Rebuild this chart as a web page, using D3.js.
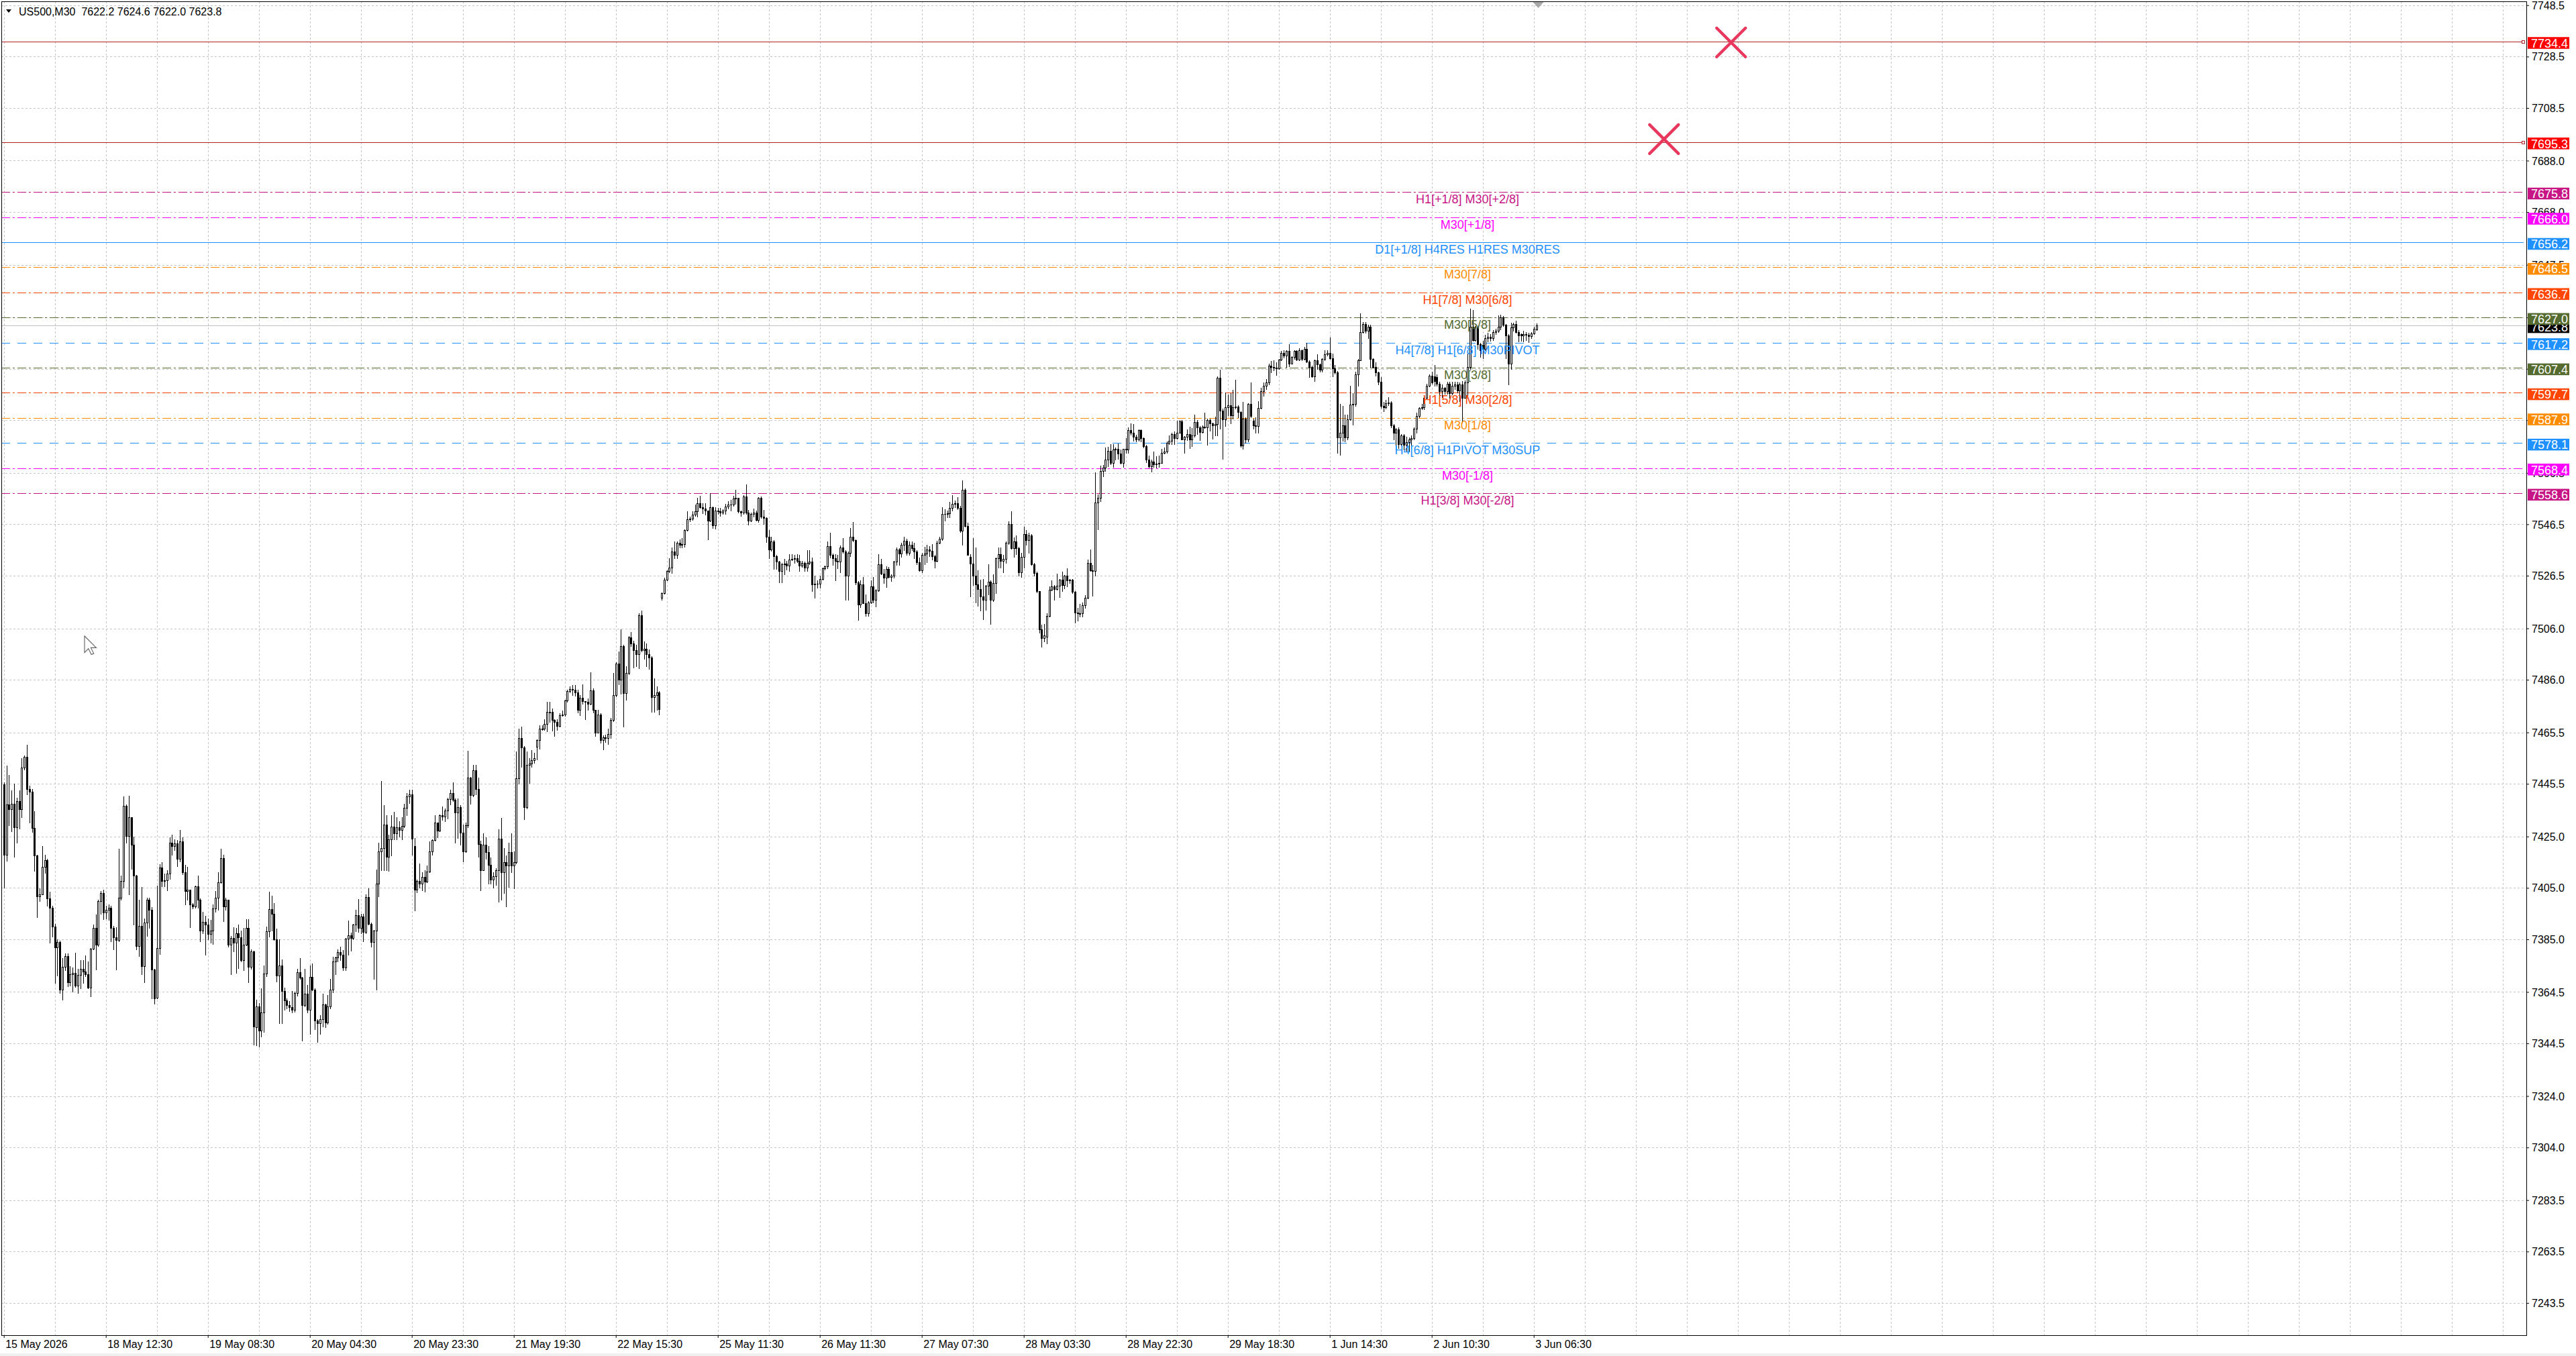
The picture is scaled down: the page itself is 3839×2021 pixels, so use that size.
<!DOCTYPE html>
<html><head><meta charset="utf-8">
<script src="https://cdn.jsdelivr.net/npm/d3@7/dist/d3.min.js"></script>
<style>html,body{margin:0;padding:0;background:#fff;overflow:hidden}</style>
</head><body>
<svg id="c" width="3839" height="2021"></svg>
<script>
// ---------- DATA ----------
const symbolTitle = "US500,M30  7622.2 7624.6 7622.0 7623.8";
// OHLC rows [open, high, low, close], M30 bars
const barsA = [ // 15 May – 19 May
[7445.3,7446.0,7405.0,7417.8],[7417.8,7452.7,7415.6,7437.4],[7437.4,7449.0,7429.5,7435.6],[7435.6,7443.0,7427.0,7437.8],[7437.8,7445.5,7417.0,7428.6],
[7428.6,7440.0,7422.6,7438.7],[7438.7,7443.0,7428.0,7435.6],[7435.6,7455.5,7432.6,7451.8],[7451.8,7456.5,7451.0,7456.0],[7456.0,7460.7,7441.3,7443.5],
[7443.5,7444.8,7430.4,7442.4],[7442.4,7443.5,7426.7,7428.2],[7428.2,7434.8,7411.6,7417.5],[7417.5,7418.0,7393.7,7401.6],[7401.6,7404.7,7399.9,7402.6],
[7402.6,7421.2,7402.4,7413.1],[7413.1,7418.0,7410.8,7415.7],[7415.7,7416.4,7398.1,7400.9],[7400.9,7403.5,7383.7,7397.2],[7397.2,7398.0,7386.0,7390.0],
[7390.0,7391.0,7368.0,7381.9],[7381.9,7385.0,7371.0,7383.9],[7383.9,7384.5,7364.0,7365.5],[7365.5,7377.6,7361.4,7374.3],[7374.3,7379.4,7373.0,7378.5],
[7378.5,7379.4,7366.7,7368.4],[7368.4,7374.6,7367.0,7371.5],[7371.5,7374.0,7364.5,7371.9],[7371.9,7379.8,7366.5,7367.1],[7367.1,7373.5,7364.0,7371.1],
[7371.1,7376.8,7366.0,7373.5],[7373.5,7377.0,7368.0,7372.5],[7372.5,7378.8,7370.5,7371.5],[7371.5,7376.3,7366.0,7366.2],[7366.2,7381.6,7362.7,7381.4],
[7381.4,7390.7,7381.0,7389.4],[7389.4,7394.6,7373.2,7382.8],[7382.8,7400.3,7382.3,7399.9],[7399.9,7403.8,7395.0,7402.9],[7402.9,7404.2,7392.9,7395.5],
[7395.5,7398.0,7393.0,7396.4],[7396.4,7398.5,7392.5,7397.2],[7397.2,7398.1,7384.1,7389.4],[7389.4,7390.3,7381.0,7385.9],[7385.9,7389.8,7373.2,7384.6],
[7384.6,7420.3,7384.2,7401.2],[7401.2,7409.9,7400.3,7407.7],[7407.7,7440.5,7405.1,7437.0],[7437.0,7437.4,7422.6,7425.2],[7425.2,7440.9,7402.5,7432.6],
[7432.6,7432.6,7412.5,7421.7],[7421.7,7425.0,7390.7,7409.7],[7409.7,7410.0,7381.1,7382.4],[7382.4,7400.3,7378.5,7390.3],[7390.3,7405.4,7371.5,7374.5],
[7374.5,7393.2,7368.3,7391.6],[7391.6,7401.2,7386.4,7400.3],[7400.3,7401.2,7389.3,7396.4],[7396.4,7397.5,7361.9,7373.2],[7373.2,7373.4,7360.0,7361.9],
[7362.2,7405.9,7361.9,7381.5],[7381.5,7414.3,7379.3,7413.0],[7413.0,7415.0,7405.5,7407.7],[7407.7,7410.6,7405.5,7408.0],[7408.0,7412.0,7404.0,7410.5],
[7410.5,7424.7,7408.6,7422.6],[7422.6,7425.6,7418.0,7421.2],[7421.2,7424.0,7419.6,7422.4],[7422.4,7423.5,7413.4,7416.3],[7416.3,7427.5,7415.3,7423.0],
[7423.0,7424.8,7410.3,7411.2],[7411.2,7414.0,7398.5,7403.8],[7403.8,7413.1,7400.3,7404.4],[7404.4,7404.4,7389.8,7398.5],[7398.5,7399.0,7396.9,7397.8],
[7397.8,7405.9,7397.3,7405.5],[7405.5,7409.9,7397.3,7400.4],[7400.4,7400.9,7384.1,7388.4],[7388.4,7395.8,7387.4,7391.8],[7391.8,7394.2,7378.9,7390.7],
[7390.7,7393.0,7385.0,7387.0],[7387.0,7392.6,7383.8,7388.4],[7388.4,7398.5,7383.2,7397.0],[7397.0,7403.9,7395.6,7401.2],[7401.2,7411.2,7396.6,7407.3],
[7407.3,7420.2,7406.9,7416.7],[7416.7,7417.9,7392.1,7397.7],[7397.7,7401.2,7396.4,7400.3],[7400.3,7400.5,7382.1,7383.0],[7383.0,7386.4,7371.5,7385.5],
[7385.5,7389.8,7380.4,7383.7],[7383.7,7389.3,7372.0,7387.4],[7387.4,7390.7,7373.7,7385.9],[7385.9,7388.5,7376.4,7376.8],[7376.8,7389.4,7373.0,7383.0],
[7383.0,7392.9,7382.6,7389.4],[7389.4,7392.9,7368.4,7374.3],[7374.3,7381.0,7373.5,7380.2],[7380.2,7380.6,7344.0,7351.0]
];
const barsB = [ // 19 May – 21 May
[7350.7,7361.6,7343.7,7359.0],[7359.0,7360.3,7343.3,7349.4],[7349.4,7366.0,7347.2,7356.4],[7356.4,7374.7,7349.0,7371.8],[7371.8,7390.0,7370.5,7388.1],
[7388.1,7403.5,7386.0,7396.7],[7396.7,7402.0,7388.3,7394.8],[7394.8,7399.0,7384.6,7384.9],[7384.9,7389.2,7368.6,7370.9],[7370.9,7385.0,7352.3,7374.7],
[7374.7,7377.1,7352.3,7364.9],[7364.9,7366.2,7357.7,7361.2],[7361.2,7362.1,7358.1,7359.4],[7359.4,7361.0,7357.0,7358.5],[7358.5,7364.9,7356.4,7357.7],
[7357.7,7364.5,7356.8,7364.0],[7364.0,7373.4,7363.0,7372.1],[7372.1,7377.8,7369.5,7370.1],[7370.1,7370.4,7345.5,7359.4],[7359.4,7373.4,7358.8,7363.8],
[7363.8,7367.3,7356.4,7357.7],[7357.7,7374.7,7348.1,7370.3],[7370.3,7375.6,7365.1,7365.5],[7365.5,7365.9,7349.9,7353.5],[7353.5,7354.0,7345.0,7352.4],
[7352.4,7355.6,7348.1,7353.8],[7353.8,7363.8,7351.1,7359.6],[7359.6,7360.0,7350.8,7352.5],[7352.5,7363.4,7352.0,7359.0],[7359.0,7369.6,7358.1,7365.3],
[7365.3,7378.2,7364.4,7376.5],[7376.5,7378.3,7371.3,7378.0],[7378.0,7381.2,7376.5,7380.1],[7380.1,7382.0,7377.0,7379.0],[7379.0,7380.8,7373.0,7373.9],
[7373.9,7385.6,7373.0,7385.2],[7385.2,7392.2,7379.0,7386.6],[7386.6,7387.5,7380.6,7385.6],[7385.6,7391.0,7385.1,7390.6],[7390.6,7396.5,7388.2,7394.4],
[7394.4,7400.6,7387.8,7389.3],[7389.3,7394.8,7387.4,7393.9],[7393.9,7394.8,7384.1,7387.8],[7387.8,7402.6,7387.4,7401.5],[7401.5,7404.8,7390.8,7391.0],
[7391.0,7391.4,7382.1,7384.0],[7384.0,7388.7,7369.5,7388.4],[7388.4,7412.2,7365.5,7406.6],[7406.6,7422.5,7401.6,7419.2],[7419.2,7446.7,7411.8,7420.5],
[7420.5,7437.1,7411.8,7429.7],[7429.7,7433.2,7411.8,7417.0],[7417.0,7425.8,7411.6,7423.8],[7423.8,7433.2,7417.5,7428.8],[7428.8,7434.7,7424.0,7426.2],
[7426.2,7432.4,7423.8,7428.5],[7428.5,7431.0,7425.0,7427.5],[7427.5,7432.4,7423.8,7429.2],[7429.2,7437.6,7428.7,7436.1],[7436.1,7441.9,7433.2,7440.6],
[7440.6,7443.2,7438.1,7441.5],[7441.5,7443.2,7417.9,7424.2],[7421.2,7424.3,7396.3,7404.4],[7404.4,7408.3,7403.2,7407.7],[7407.7,7414.4,7405.2,7406.6],
[7406.6,7411.1,7404.0,7409.2],[7409.2,7412.0,7403.6,7407.5],[7407.5,7413.6,7407.2,7411.3],[7411.3,7423.0,7411.0,7419.2],[7419.2,7424.0,7417.8,7423.6],
[7423.6,7433.2,7423.3,7430.3],[7430.3,7430.5,7424.8,7427.4],[7427.4,7433.6,7427.0,7433.2],[7433.2,7436.8,7431.4,7432.8],[7432.8,7436.0,7431.0,7435.0],
[7435.0,7440.0,7432.0,7439.6],[7439.6,7443.2,7437.4,7442.0],[7442.0,7446.0,7438.9,7439.3],[7439.3,7439.8,7422.7,7434.3],[7434.3,7439.8,7424.5,7436.3],
[7436.3,7437.3,7421.9,7426.5],[7426.5,7429.7,7415.3,7419.2],[7419.2,7430.3,7418.8,7429.3],[7429.3,7458.3,7428.6,7448.0],[7448.0,7448.3,7437.8,7441.0],
[7441.0,7452.9,7440.6,7450.7],[7450.7,7452.9,7441.5,7443.5],[7443.5,7447.8,7417.0,7422.1],[7422.1,7423.4,7404.0,7412.0],[7412.0,7426.2,7411.8,7421.8],
[7421.8,7424.6,7416.4,7418.8],[7418.8,7421.2,7406.6,7414.0],[7414.0,7416.9,7406.6,7408.3],[7408.3,7411.0,7405.0,7409.5],[7409.5,7412.7,7406.2,7411.8],
[7411.8,7427.9,7399.6,7424.2],[7424.2,7432.3,7400.5,7411.1],[7411.1,7420.5,7403.0,7414.9],[7414.9,7417.5,7397.8,7413.6],[7413.6,7422.6,7405.3,7419.0],
[7419.0,7426.2,7411.2,7413.6],[7413.6,7419.2,7404.9,7415.0],[7415.0,7458.0,7414.6,7447.6],[7447.6,7467.0,7445.6,7463.3],[7463.3,7467.7,7452.0,7459.6]
];
const barsC = [ // 21 May – 22 May
[7459.6,7460.2,7431.6,7436.3],[7436.3,7458.2,7436.0,7452.9],[7452.9,7455.5,7445.9,7453.3],[7453.3,7458.5,7452.0,7454.6],[7454.6,7457.6,7453.7,7455.5],
[7459.9,7462.9,7455.0,7462.5],[7462.5,7468.2,7459.1,7467.1],[7467.1,7468.2,7466.5,7466.9],[7466.9,7470.6,7466.5,7468.7],[7468.7,7477.3,7465.8,7473.5],
[7473.5,7477.5,7469.6,7473.4],[7473.4,7474.7,7466.2,7470.3],[7470.3,7470.6,7464.2,7469.7],[7469.7,7470.7,7466.5,7468.1],[7468.1,7472.9,7467.7,7472.3],
[7472.3,7473.9,7472.0,7472.5],[7472.5,7478.2,7472.0,7477.9],[7477.9,7482.2,7477.4,7481.6],[7481.6,7483.4,7481.0,7482.5],[7482.5,7484.0,7480.0,7482.0],
[7482.0,7483.9,7479.8,7481.2],[7481.2,7482.1,7473.3,7474.2],[7474.2,7479.9,7472.3,7479.0],[7479.0,7484.2,7476.6,7477.6],[7477.6,7477.8,7470.7,7477.4],
[7477.4,7478.7,7474.2,7476.6],[7476.6,7488.9,7476.3,7481.9],[7481.9,7482.6,7473.2,7474.2],[7474.2,7474.4,7464.2,7465.5],[7465.5,7474.2,7465.3,7472.5],
[7472.5,7473.0,7461.4,7462.5],[7462.5,7464.3,7458.8,7463.7],[7463.7,7464.6,7461.8,7463.3],[7463.3,7467.0,7461.0,7465.0],[7465.0,7471.1,7463.3,7470.3],
[7470.3,7488.6,7469.9,7479.9],[7479.9,7492.9,7479.5,7492.4],[7492.4,7496.9,7484.3,7486.0],[7486.0,7505.7,7480.6,7499.1],[7499.1,7499.5,7467.7,7480.8],
[7480.8,7491.2,7478.1,7488.6],[7488.6,7503.0,7488.1,7502.6],[7502.6,7504.5,7499.1,7500.0],[7500.0,7501.3,7490.7,7497.4],[7497.4,7499.6,7491.2,7496.0],
[7496.0,7511.8,7490.5,7511.1],[7511.1,7512.8,7497.1,7497.4],[7497.4,7501.0,7494.0,7498.0],[7498.0,7500.1,7491.2,7496.0],[7496.0,7497.7,7490.3,7494.7],
[7494.7,7495.1,7473.4,7479.3],[7479.3,7486.5,7473.4,7479.9],[7479.9,7483.4,7474.2,7481.2],[7481.2,7481.6,7472.5,7474.6]
];
const barsD = [ // 25 May – 26 May
[7517.9,7520.1,7517.2,7519.8],[7519.8,7525.7,7519.4,7525.0],[7525.0,7528.7,7524.7,7528.3],[7528.3,7533.2,7527.9,7529.7],[7529.7,7537.5,7527.6,7536.0],
[7536.0,7539.7,7533.2,7534.5],[7534.5,7539.7,7533.2,7539.3],[7539.3,7540.7,7537.5,7538.4],[7538.4,7541.1,7537.4,7538.8],[7538.8,7544.5,7537.8,7544.2],
[7544.2,7551.5,7543.9,7548.4],[7548.4,7549.5,7547.6,7548.6],[7548.6,7551.5,7548.3,7550.2],[7550.2,7554.1,7549.7,7551.5],[7551.5,7556.7,7549.6,7554.7],
[7554.7,7557.6,7553.0,7553.2],[7553.2,7554.7,7550.9,7552.6],[7552.6,7554.7,7550.2,7551.7],[7551.7,7551.9,7540.6,7548.0],[7548.0,7558.5,7547.6,7553.2],
[7553.2,7553.5,7545.1,7546.2],[7546.2,7553.2,7544.8,7551.9],[7551.9,7552.8,7550.6,7551.5],[7551.5,7553.0,7549.8,7551.0],[7551.0,7552.4,7550.6,7551.8],
[7551.8,7554.5,7550.6,7553.5],[7553.5,7555.4,7552.6,7554.1],[7554.1,7555.9,7551.7,7554.2],[7554.2,7557.6,7553.6,7556.5],[7556.5,7560.0,7554.5,7556.8],
[7556.8,7556.8,7551.1,7551.5],[7551.5,7551.9,7549.7,7551.1],[7551.1,7557.9,7550.6,7557.3],[7557.3,7562.0,7550.6,7551.1],[7551.1,7552.1,7546.3,7548.0],
[7548.0,7551.1,7547.6,7550.6],[7550.6,7552.7,7549.4,7551.0],[7551.0,7551.9,7547.9,7548.2],[7548.2,7557.0,7547.4,7556.7],[7556.7,7557.2,7549.0,7549.5],
[7549.5,7552.0,7546.7,7548.9],[7548.9,7549.2,7539.6,7541.6],[7541.6,7544.2,7533.3,7536.6],[7536.6,7541.6,7536.2,7539.9],[7539.9,7540.4,7529.2,7534.0],
[7534.0,7534.5,7529.2,7532.0],[7532.0,7532.2,7524.0,7528.4],[7528.4,7531.4,7524.0,7531.0]
];
const barsE = [ // 26 May – 28 May
[7531.0,7533.1,7527.1,7531.2],[7531.2,7532.3,7528.9,7530.5],[7530.5,7534.9,7528.2,7532.7],[7532.7,7534.9,7532.5,7532.9],[7532.9,7534.5,7531.5,7533.4],
[7533.4,7534.9,7531.6,7532.3],[7532.3,7534.6,7528.2,7530.5],[7530.5,7532.2,7529.8,7531.5],[7531.5,7531.9,7528.4,7529.6],[7529.6,7536.3,7528.4,7531.4],
[7531.4,7536.4,7531.0,7532.0],[7532.0,7533.5,7520.6,7523.0],[7523.0,7526.4,7517.9,7523.3],[7523.3,7524.7,7521.9,7523.4],[7523.4,7526.6,7521.7,7525.3],
[7525.3,7529.7,7525.0,7529.4],[7529.4,7530.5,7528.8,7530.1],[7530.1,7539.7,7529.4,7538.1],[7538.1,7543.2,7533.6,7534.5],[7534.5,7535.0,7530.7,7533.2],
[7533.2,7534.9,7524.7,7532.3],[7532.3,7534.5,7529.5,7532.0],[7532.0,7538.3,7527.9,7537.5],[7537.5,7541.1,7535.3,7535.9],[7535.9,7536.4,7517.0,7526.6],
[7526.6,7536.0,7517.0,7535.5],[7535.5,7545.1,7534.2,7541.6],[7541.6,7547.4,7539.9,7540.4],[7540.4,7540.7,7523.1,7524.0],[7524.0,7524.3,7509.3,7515.4],
[7515.4,7524.6,7514.3,7523.1],[7523.1,7526.1,7515.7,7515.9],[7515.9,7519.1,7510.9,7511.9],[7511.9,7516.6,7510.9,7516.1],[7516.1,7524.8,7515.7,7522.2],
[7522.2,7526.0,7516.1,7517.0],[7517.0,7521.4,7514.4,7520.7],[7520.7,7534.9,7520.4,7531.0],[7531.0,7533.0,7527.1,7527.3],[7527.3,7529.2,7523.5,7525.6],
[7525.6,7530.2,7522.1,7529.2],[7529.2,7530.0,7525.7,7526.0],[7526.0,7527.1,7524.3,7526.4],[7526.4,7532.2,7525.7,7532.0],[7532.0,7537.5,7530.7,7536.6],
[7536.6,7537.2,7530.7,7535.2],[7535.2,7539.2,7533.8,7538.4],[7538.4,7541.6,7536.5,7540.0],[7540.0,7540.8,7534.5,7535.3],[7535.3,7539.7,7534.7,7538.4],
[7538.4,7539.7,7536.3,7537.1],[7537.1,7539.4,7533.4,7535.8],[7535.8,7536.3,7530.9,7531.8],[7531.8,7533.6,7528.2,7528.5],[7528.5,7535.4,7527.9,7534.5],
[7534.5,7537.8,7530.9,7535.2],[7535.2,7538.4,7531.8,7536.6],[7536.6,7538.0,7534.0,7536.2],[7536.2,7538.9,7532.7,7534.0],[7534.0,7534.5,7529.6,7532.3],
[7532.3,7540.2,7531.9,7539.3],[7539.3,7541.7,7539.0,7540.8],[7540.8,7553.2,7540.4,7550.4],[7550.4,7552.3,7547.8,7550.6],[7550.6,7551.9,7549.2,7550.8],
[7550.8,7555.1,7549.2,7552.8],[7552.8,7557.9,7551.9,7554.5],[7554.5,7555.7,7553.2,7554.7],[7554.7,7557.1,7552.4,7552.8],[7552.8,7553.7,7543.4,7543.9],
[7543.9,7563.7,7538.5,7560.0],[7560.0,7560.4,7545.6,7545.8],[7545.8,7547.2,7534.5,7534.6],[7533.8,7534.8,7518.3,7531.1],[7531.1,7541.2,7522.9,7526.6],
[7526.6,7537.4,7516.1,7523.0],[7523.0,7528.5,7514.8,7521.2],[7521.2,7525.0,7513.0,7518.5],[7518.5,7525.2,7509.6,7517.0],[7517.0,7522.9,7513.3,7522.7],
[7522.7,7531.0,7519.2,7524.2],[7524.2,7524.6,7507.8,7517.0],[7517.0,7526.9,7516.5,7523.6],[7523.6,7533.6,7519.8,7533.2],[7533.2,7537.5,7529.6,7534.9],
[7534.9,7537.5,7529.6,7532.3],[7532.3,7534.5,7527.9,7532.9],[7532.9,7539.7,7531.4,7539.3],[7539.3,7547.6,7538.9,7546.7],[7546.7,7551.5,7537.0,7537.3],
[7537.3,7541.4,7533.8,7539.7],[7539.7,7542.2,7534.8,7537.1],[7537.1,7537.6,7526.6,7527.9],[7527.9,7535.5,7526.0,7533.8],[7533.8,7545.6,7529.6,7542.8],
[7542.8,7544.3,7538.4,7540.4],[7540.4,7543.2,7535.5,7542.2],[7542.2,7542.8,7530.6,7531.0],[7531.0,7531.4,7526.4,7527.5],[7527.5,7528.0,7520.1,7520.5],
[7520.5,7520.6,7504.4,7505.7],[7505.7,7507.4,7498.7,7502.2],[7502.2,7507.7,7501.0,7503.2]
];
const barsF = [ // 28 May – 1 Jun
[7502.8,7512.0,7500.2,7510.9],[7510.9,7522.2,7510.5,7521.1],[7521.1,7524.8,7520.7,7522.2],[7522.2,7522.9,7517.0,7521.4],[7521.4,7527.3,7520.9,7522.7],
[7522.7,7525.3,7518.2,7524.9],[7524.9,7528.0,7520.6,7522.8],[7522.8,7526.7,7521.5,7526.4],[7526.4,7529.4,7522.2,7524.8],[7524.8,7525.3,7523.5,7524.9],
[7524.9,7525.3,7519.8,7520.2],[7520.2,7520.6,7508.3,7512.2],[7512.2,7514.0,7509.0,7512.0],[7512.0,7515.6,7510.5,7511.8],[7511.8,7516.1,7510.5,7515.0],
[7515.0,7518.8,7514.0,7517.9],[7517.9,7532.7,7517.6,7531.4],[7531.4,7536.8,7528.2,7528.6],[7528.6,7530.6,7518.7,7528.4],[7528.4,7566.8,7526.4,7555.0],
[7555.0,7558.1,7544.5,7556.7],[7556.7,7569.4,7555.4,7567.2],[7567.2,7569.7,7565.2,7568.5],[7568.5,7576.4,7567.2,7571.6],[7571.6,7576.6,7569.0,7575.1],
[7575.1,7577.6,7569.8,7570.3],[7570.3,7577.6,7568.9,7575.5],[7575.5,7576.4,7571.6,7575.8],[7575.8,7578.0,7572.0,7574.0],[7574.0,7575.5,7570.0,7570.3],
[7570.3,7575.9,7568.9,7575.8],[7575.8,7580.0,7574.3,7575.7],[7575.7,7584.2,7574.3,7583.1],[7583.1,7585.7,7581.3,7582.0],[7582.0,7585.6,7579.0,7580.5],
[7580.5,7581.3,7578.6,7579.4],[7579.4,7583.4,7578.9,7583.1],[7583.1,7583.5,7578.7,7579.9],[7579.9,7580.3,7576.4,7577.0],[7577.0,7577.4,7570.7,7571.7],
[7571.7,7573.2,7568.6,7569.0],[7569.0,7571.6,7567.0,7570.9],[7570.9,7574.8,7568.9,7569.8],[7569.8,7573.0,7568.5,7570.0],[7570.0,7573.2,7568.9,7570.4],
[7570.4,7575.9,7570.4,7574.4],[7574.4,7576.3,7574.0,7574.8],[7574.8,7578.6,7574.4,7578.1],[7578.1,7581.2,7577.7,7579.0],[7579.0,7582.2,7577.7,7581.6],
[7581.6,7582.7,7577.7,7579.9],[7579.9,7586.9,7579.7,7582.0],[7582.0,7587.1,7582.0,7586.6],[7586.6,7587.1,7579.4,7579.6],[7579.6,7580.8,7574.2,7580.5],
[7580.5,7583.3,7579.3,7581.6],[7581.6,7584.4,7576.1,7579.6],[7579.6,7584.0,7577.0,7581.0],[7581.0,7589.2,7580.5,7586.4],[7586.4,7587.0,7581.6,7584.2],
[7584.2,7584.7,7579.3,7582.5],[7582.5,7584.9,7582.0,7584.5],[7584.5,7590.0,7583.9,7584.2],[7584.2,7587.7,7577.3,7587.1],[7587.1,7587.5,7582.8,7585.7],
[7585.7,7586.1,7579.7,7585.0],[7585.0,7588.3,7581.2,7585.5],[7585.5,7604.0,7581.2,7603.4],[7603.4,7606.6,7583.6,7590.8],[7590.8,7591.5,7572.0,7587.3],
[7587.3,7597.9,7584.6,7592.1],[7592.1,7597.0,7589.0,7592.7],[7592.7,7597.4,7585.9,7588.9],[7588.9,7598.9,7587.7,7592.1],[7592.1,7602.8,7591.4,7592.4],
[7592.4,7592.7,7588.2,7590.3],[7590.3,7590.5,7576.6,7577.2],[7577.2,7594.1,7575.9,7587.7],[7587.7,7588.1,7578.2,7579.4],[7579.4,7593.6,7578.7,7593.4],
[7593.4,7601.7,7588.2,7588.6],[7586.8,7587.7,7583.8,7585.1],[7585.1,7588.1,7582.2,7584.8],[7584.8,7594.3,7582.2,7591.8],[7591.8,7599.5,7591.4,7598.2],
[7598.2,7601.7,7596.4,7600.4],[7600.4,7603.0,7599.1,7601.7],[7601.7,7609.1,7600.9,7608.2],[7608.2,7610.0,7605.5,7607.8],[7607.8,7610.3,7606.4,7607.5],
[7607.5,7609.6,7604.6,7607.2],[7607.2,7610.9,7606.8,7610.7],[7610.7,7613.9,7610.2,7613.3],[7613.3,7614.3,7611.4,7612.2],[7612.2,7614.3,7607.7,7613.9],
[7613.9,7616.5,7607.9,7609.1],[7609.1,7611.8,7609.0,7611.5],[7611.5,7614.3,7610.9,7613.9],[7613.9,7614.2,7610.4,7610.7],[7610.7,7615.1,7610.4,7614.3],
[7614.3,7614.6,7610.4,7610.9],[7610.9,7615.6,7610.7,7614.8],[7614.8,7617.1,7609.5,7609.8],[7609.8,7610.2,7603.9,7607.8],[7607.8,7608.2,7603.9,7604.1],
[7604.1,7610.7,7602.2,7610.4],[7610.4,7612.6,7607.0,7608.7],[7608.7,7609.0,7605.8,7606.7],[7606.7,7611.2,7605.8,7610.8],[7610.8,7614.1,7610.4,7612.6],
[7612.6,7614.3,7612.1,7613.3]
];
const barsG = [ // 1 Jun – 3 Jun
[7613.3,7619.1,7610.8,7611.2],[7611.2,7612.9,7604.1,7607.3],[7607.3,7608.6,7605.1,7605.6],[7605.6,7606.1,7574.3,7580.4],[7580.4,7593.4,7573.4,7582.2],
[7582.2,7592.6,7579.0,7585.1],[7585.1,7589.2,7578.6,7580.4],[7580.4,7589.2,7579.6,7587.3],[7587.3,7600.4,7587.0,7593.0],[7593.0,7597.4,7585.3,7593.4],
[7593.4,7606.0,7592.5,7604.7],[7604.7,7610.8,7600.4,7610.4],[7610.4,7628.6,7610.4,7621.3],[7621.3,7625.2,7620.9,7624.5],[7624.5,7625.2,7620.9,7621.7],
[7621.7,7624.1,7618.8,7623.4],[7623.4,7624.1,7607.7,7610.8],[7610.8,7611.2,7607.4,7607.8],[7607.8,7609.5,7604.3,7605.6],[7605.6,7606.0,7601.0,7602.0],
[7602.0,7603.8,7591.7,7592.5],[7592.5,7594.0,7590.4,7592.1],[7592.1,7594.8,7591.5,7593.7],[7593.7,7596.0,7592.9,7593.9],[7593.9,7594.4,7584.2,7585.1],
[7585.1,7585.5,7579.5,7582.1],[7582.1,7583.9,7575.6,7583.4],[7583.4,7584.3,7576.0,7577.7],[7577.7,7581.6,7577.2,7581.2],[7581.2,7581.6,7575.6,7577.3],
[7577.3,7580.5,7575.0,7578.5],[7578.5,7580.4,7574.7,7579.6],[7579.6,7581.2,7575.9,7580.0],[7580.0,7584.3,7579.6,7583.8],[7583.8,7590.0,7582.1,7588.6],
[7588.6,7592.1,7588.2,7591.7],[7591.7,7593.4,7591.3,7592.1],[7592.1,7596.4,7591.3,7595.6],[7595.6,7601.2,7595.1,7600.4],[7600.4,7604.7,7600.0,7604.3],
[7604.3,7606.0,7601.3,7601.7],[7604.1,7608.6,7600.4,7602.1],[7603.8,7604.7,7600.4,7601.2],[7601.2,7602.0,7595.6,7598.2],[7598.2,7601.0,7596.0,7599.5],
[7599.5,7599.8,7597.3,7598.2],[7598.2,7601.9,7597.3,7601.2],[7601.2,7601.9,7595.6,7597.5],[7597.5,7601.9,7597.0,7600.4],[7600.4,7602.0,7599.1,7600.8],
[7600.8,7602.0,7597.7,7598.6],[7598.6,7601.7,7594.5,7600.8],[7600.8,7602.1,7586.0,7595.6],[7595.6,7602.6,7595.6,7601.7],[7601.7,7613.0,7595.6,7607.8],
[7607.8,7630.4,7607.0,7623.4],[7623.4,7629.9,7617.8,7618.2],[7618.2,7623.5,7618.0,7623.0],[7623.0,7623.5,7614.8,7616.5],[7616.5,7617.0,7611.7,7614.3],
[7616.4,7617.9,7611.2,7614.7],[7614.7,7620.2,7614.3,7618.8],[7618.8,7620.9,7617.6,7619.5],[7619.5,7620.5,7617.8,7619.0],[7619.0,7622.0,7618.2,7621.3],
[7621.3,7622.6,7620.4,7621.7],[7621.7,7627.8,7621.3,7623.4],[7623.4,7628.0,7622.2,7626.9],[7626.9,7627.6,7623.5,7624.1],[7624.1,7624.5,7611.2,7620.0],
[7620.0,7620.4,7600.8,7609.1],[7609.1,7625.0,7606.9,7623.0],[7623.0,7625.0,7621.9,7624.3],[7624.3,7625.6,7620.9,7621.3],[7621.3,7622.1,7617.5,7619.9],
[7620.5,7620.8,7617.8,7619.9],[7619.9,7621.7,7617.5,7620.6],[7620.6,7621.3,7618.2,7620.2],[7620.2,7621.0,7617.3,7619.7],[7619.7,7621.3,7618.8,7620.8],
[7620.8,7623.4,7620.4,7622.6],[7622.2,7624.6,7622.0,7623.8]
];

const timeTickBars   = [0,40,80,120,160,200,240,280,320,360,400,440,480,520,560,600];
const timeTickLabels = ["15 May 2026","18 May 12:30","19 May 08:30","20 May 04:30","20 May 23:30","21 May 19:30","22 May 15:30","25 May 11:30","26 May 11:30","27 May 07:30","28 May 03:30","28 May 22:30","29 May 18:30","1 Jun 14:30","2 Jun 10:30","3 Jun 06:30"];
const priceTickLabels = ["7748.5","7728.5","7708.5","7688.0","7668.0","7647.5","7627.0","7607.0","7587.0","7566.5","7546.5","7526.5","7506.0","7486.0","7465.5","7445.5","7425.0","7405.0","7385.0","7364.5","7344.5","7324.0","7304.0","7283.5","7263.5","7243.5"];

const levelPrices = [7734.4,7695.3,7675.8,7666.0,7656.2,7646.5,7636.7,7627.0,7617.2,7607.4,7597.7,7587.9,7578.1,7568.4,7558.6];
const levelNames  = ["","","H1[+1/8] M30[+2/8]","M30[+1/8]","D1[+1/8] H4RES H1RES M30RES","M30[7/8]","H1[7/8] M30[6/8]","M30[5/8]","H4[7/8] H1[6/8] M30PIVOT","M30[3/8]","H1[5/8] M30[2/8]","M30[1/8]","H4[6/8] H1PIVOT M30SUP","M30[-1/8]","H1[3/8] M30[-2/8]"];
const levelColors = ["#FF0000","#FF0000","#C71585","#FF00FF","#1E90FF","#FF8C00","#FF4500","#556B2F","#1E90FF","#556B2F","#FF4500","#FF8C00","#1E90FF","#FF00FF","#C71585"];
const levelStyles = ["solid","solid","dashdot","dashdot","solid","dashdot","dashdot","dashdot","dash","dashdot","dashdot","dashdot","dash","dashdot","dashdot"];
const bidPrice = 7623.8;
const crossBars   = [677.4, 651.1];
const crossPrices = [7734.0, 7696.4];
const shiftBar = 601.8;

// ---------- LAYOUT ----------
const svg = d3.select("#c");
const W = 3839, H = 2021;
const plotL = 2, plotT = 2, plotR = 3765, plotB = 1990;
const bars = [...barsA, ...barsB, ...barsC, ...barsD, ...barsE, ...barsF, ...barsG];
const x = d3.scaleLinear().domain([0, 989.5]).range([5.7, 5.7 + 3.8 * 989.5]);
const y = d3.scaleLinear().domain([7231.2, 7750.0]).range([1989, 2]);
const FONT = "'Liberation Sans', Arial, sans-serif";

svg.append("rect").attr("width", W).attr("height", H).attr("fill", "#fff");
svg.append("rect").attr("x", 0).attr("y", 2017).attr("width", W).attr("height", 4).attr("fill", "#f0f0f0");

// grid
const grid = svg.append("g").attr("stroke", "#c3c3c3").attr("stroke-width", 1)
  .attr("stroke-dasharray", "3,3").attr("shape-rendering", "crispEdges");
d3.range(0, 990, 20).forEach(i => {
  const gx = Math.round(x(i)) + 0.5;
  grid.append("line").attr("x1", gx).attr("x2", gx).attr("y1", plotT).attr("y2", plotB);
});
priceTickLabels.forEach(t => {
  const gy = Math.round(y(+t)) + 0.5;
  grid.append("line").attr("x1", plotL).attr("x2", plotR).attr("y1", gy).attr("y2", gy);
});

// level lines
const dashOf = s => s === "dashdot" ? "13,4,3,4" : (s === "dash" ? "13,11" : null);
const lv = svg.append("g").attr("shape-rendering", "crispEdges");
levelPrices.forEach((p, k) => {
  const ly = Math.round(y(p)) + 0.5;
  const col = k < 2 ? "#B22222" : levelColors[k];
  lv.append("line").attr("x1", plotL).attr("x2", plotR - 4).attr("y1", ly).attr("y2", ly)
    .attr("stroke", col).attr("stroke-width", 1).attr("stroke-dasharray", dashOf(levelStyles[k]));
  if (k < 2) lv.append("rect").attr("x", plotR - 6.5).attr("y", ly - 2).attr("width", 4).attr("height", 4)
    .attr("fill", "#fff").attr("stroke", col).attr("stroke-width", 1);
});
// bid line
lv.append("line").attr("x1", plotL).attr("x2", plotR).attr("y1", Math.round(y(bidPrice)) + 0.5).attr("y2", Math.round(y(bidPrice)) + 0.5)
  .attr("stroke", "#c0c0c0").attr("stroke-width", 1);

// candles
const cg = svg.append("g").attr("shape-rendering", "crispEdges");
bars.forEach((b, i) => {
  const [o, h, l, c] = b;
  const cx = Math.round(x(i));
  cg.append("line").attr("x1", cx + 0.5).attr("x2", cx + 0.5)
    .attr("y1", Math.round(y(h))).attr("y2", Math.round(y(l)) + 1).attr("stroke", "#000").attr("stroke-width", 1);
  const top = Math.round(y(Math.max(o, c))), bot = Math.round(y(Math.min(o, c)));
  if (c >= o) {
    cg.append("rect").attr("x", cx - 0.5).attr("y", top + 0.5).attr("width", 2).attr("height", Math.max(bot - top, 0.01))
      .attr("fill", "#fff").attr("stroke", "#000").attr("stroke-width", 1);
  } else {
    cg.append("rect").attr("x", cx - 1).attr("y", top).attr("width", 3).attr("height", Math.max(bot - top, 1) + 1)
      .attr("fill", "#000");
  }
});

// level texts
const lt = svg.append("g").attr("font-family", FONT).attr("font-size", 18).attr("text-anchor", "middle");
levelPrices.forEach((p, k) => {
  if (!levelNames[k]) return;
  lt.append("text").attr("x", 2187).attr("y", y(p) + 17).attr("fill", levelColors[k]).text(levelNames[k]);
});

// cross marks
const xg = svg.append("g").attr("stroke", "#E8385E").attr("stroke-width", 4.5).attr("stroke-linecap", "round");
crossBars.forEach((bi, k) => {
  const cx = x(bi), cy = y(crossPrices[k]), r = 21.5;
  xg.append("line").attr("x1", cx - r).attr("y1", cy - r).attr("x2", cx + r).attr("y2", cy + r);
  xg.append("line").attr("x1", cx - r).attr("y1", cy + r).attr("x2", cx + r).attr("y2", cy - r);
});

// shift marker
const sx = x(shiftBar);
svg.append("path").attr("d", `M${sx - 8},3 L${sx + 8},3 L${sx},12 Z`).attr("fill", "#a9a9a9");

// mouse pointer
svg.append("path").attr("transform", "translate(126,948) scale(1.45)")
  .attr("d", "M0,0 L0,17 L4,13 L7,19 L9.5,18 L6.5,12 L12,12 Z")
  .attr("fill", "#fff").attr("stroke", "#666").attr("stroke-width", 0.8);

// frame
svg.append("rect").attr("x", plotL + 0.5).attr("y", plotT + 0.5).attr("width", plotR - plotL).attr("height", plotB - plotT)
  .attr("fill", "none").attr("stroke", "#000").attr("stroke-width", 1.5).attr("shape-rendering", "crispEdges");

// price axis
const yAxis = d3.axisRight(y).tickValues(priceTickLabels.map(Number))
  .tickFormat((d, i) => priceTickLabels[i]).tickSize(4).tickPadding(4);
const ya = svg.append("g").attr("transform", `translate(${plotR},0)`).call(yAxis);
ya.select(".domain").remove();
ya.selectAll("line").attr("stroke", "#000");
ya.selectAll("text").attr("font-family", FONT).attr("font-size", 16).attr("fill", "#000").attr("dy", "0.35em");

// time axis
const xAxis = d3.axisBottom(x).tickValues(timeTickBars).tickFormat((d, i) => timeTickLabels[i]).tickSize(4);
const xa = svg.append("g").attr("transform", `translate(0,${plotB})`).call(xAxis);
xa.select(".domain").remove();
xa.selectAll("line").attr("stroke", "#000");
xa.selectAll("text").attr("font-family", FONT).attr("font-size", 16).attr("fill", "#000")
  .attr("text-anchor", "start").attr("x", 2).attr("y", 19).attr("dy", 0);

// price label boxes (bid first, levels on top)
const pb = svg.append("g").attr("font-family", FONT).attr("font-size", 18);
function priceBox(p, col) {
  const cy = y(p);
  pb.append("rect").attr("x", 3767).attr("y", cy - 6.5).attr("width", 62).attr("height", 17.5).attr("fill", col);
  pb.append("text").attr("x", 3772).attr("y", cy + 9).attr("fill", "#fff").text(p.toFixed(1));
}
priceBox(bidPrice, "#000");
levelPrices.forEach((p, k) => priceBox(p, levelColors[k]));

// title
svg.append("path").attr("d", "M9,14 L17,14 L13,19 Z").attr("fill", "#000");
svg.append("text").attr("x", 28).attr("y", 22.5).attr("font-family", FONT).attr("font-size", 16).attr("fill", "#000")
  .attr("xml:space", "preserve").style("white-space", "pre").text(symbolTitle);
</script>
</body></html>
